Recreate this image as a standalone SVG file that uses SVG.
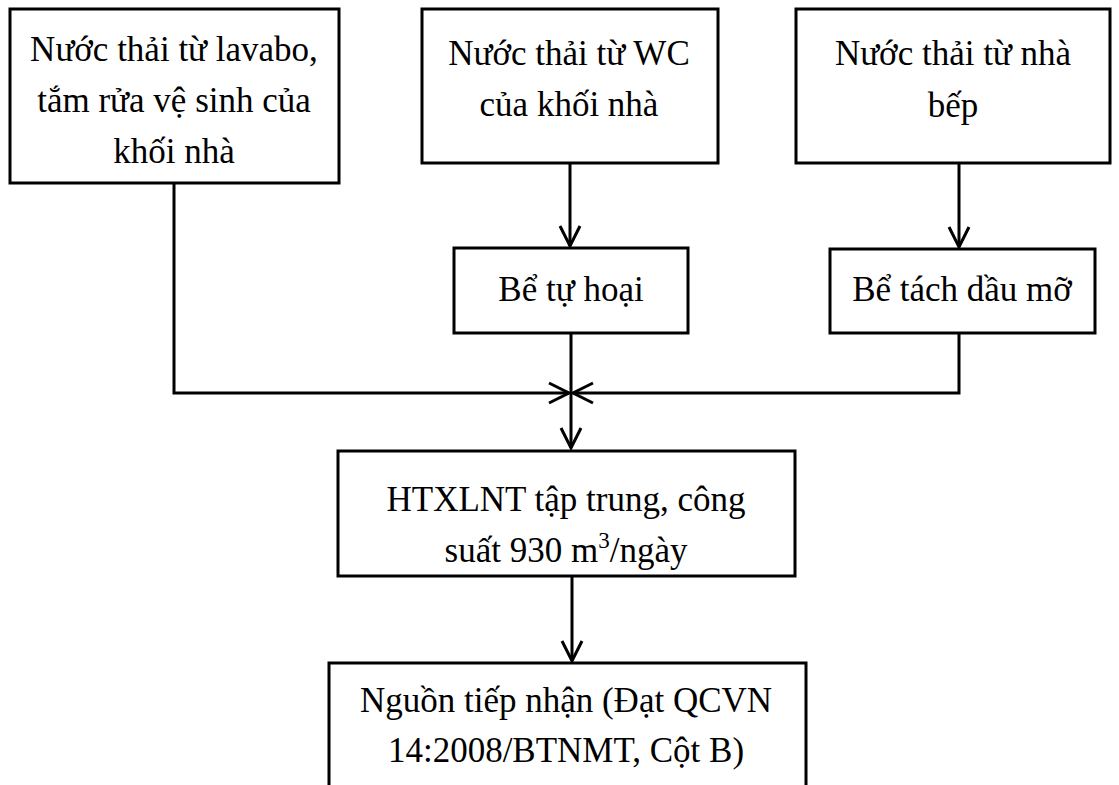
<svg xmlns="http://www.w3.org/2000/svg" width="1119" height="785" viewBox="0 0 1119 785">
<style>
.box{fill:#fff;stroke:#000;stroke-width:3}
.t{font-family:"Liberation Serif","Times New Roman",serif;font-size:35px;fill:#000;text-anchor:middle}
.c{fill:none;stroke:#000;stroke-width:3}
</style>
<defs>
<marker id="arr" markerUnits="userSpaceOnUse" markerWidth="30" markerHeight="30" viewBox="-25 -15 30 30" refX="0" refY="0" orient="auto">
<path d="M-20,-10 L0,0 L-20,10" fill="none" stroke="#000" stroke-width="3"/>
</marker>
</defs>
<rect width="1119" height="785" fill="#fff"/>
<g id="connectors">
<path class="c" d="M570,163 V246" marker-end="url(#arr)"/>
<path class="c" d="M959,163 V247" marker-end="url(#arr)"/>
<path class="c" d="M174,183 V393 H569" marker-end="url(#arr)"/>
<path class="c" d="M959,333 V393 H573" marker-end="url(#arr)"/>
<path class="c" d="M571,333 V448" marker-end="url(#arr)"/>
<path class="c" d="M572,576 V661" marker-end="url(#arr)"/>
</g>
<g id="n1">
<rect class="box" x="10" y="9" width="329" height="174"/>
<text class="t" x="174" y="61">Nước thải từ lavabo,</text>
<text class="t" x="174" y="112">tắm rửa vệ sinh của</text>
<text class="t" x="174" y="163">khối nhà</text>
</g>
<g id="n2">
<rect class="box" x="422" y="9" width="296" height="154"/>
<text class="t" x="569" y="65">Nước thải từ WC</text>
<text class="t" x="569" y="116">của khối nhà</text>
</g>
<g id="n3">
<rect class="box" x="796" y="9" width="314" height="154"/>
<text class="t" x="953" y="65">Nước thải từ nhà</text>
<text class="t" x="953" y="117">bếp</text>
</g>
<g id="n4">
<rect class="box" x="454" y="248" width="234" height="85"/>
<text class="t" x="571" y="301">Bể tự hoại</text>
</g>
<g id="n5">
<rect class="box" x="830" y="249" width="265" height="84"/>
<text class="t" x="962" y="301">Bể tách dầu mỡ</text>
</g>
<g id="n6">
<rect class="box" x="338" y="451" width="457" height="125"/>
<text class="t" x="566" y="511">HTXLNT tập trung, công</text>
<text class="t" x="566" y="562">suất 930 m<tspan font-size="23" dy="-14">3</tspan><tspan dy="14">/ngày</tspan></text>
</g>
<g id="n7">
<rect class="box" x="329" y="663" width="477" height="140"/>
<text class="t" x="566" y="712">Nguồn tiếp nhận (Đạt QCVN</text>
<text class="t" x="566" y="762">14:2008/BTNMT, Cột B)</text>
</g>
</svg>
